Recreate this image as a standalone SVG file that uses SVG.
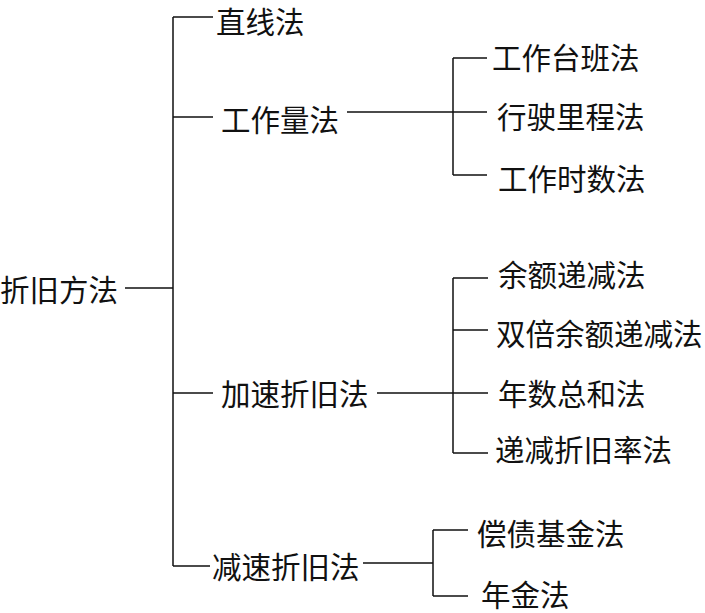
<svg xmlns="http://www.w3.org/2000/svg" width="705" height="613" viewBox="0 0 705 613">
<style>
.t{font-family:"Noto Sans CJK SC","Noto Sans CJK TC",sans-serif;font-size:29.5px;fill:#111;dominant-baseline:central}
.c{stroke:#111;stroke-width:1.5;fill:none}
</style>
<rect width="705" height="613" fill="#fff"/>
<g id="connectors" class="c">
<path d="M125,288H173M173,17V566M173,17H213M173,117H213M173,393H213M173,566H210"/>
<path d="M347,112H453M453,58V175M453,58H487M453,112H487M453,175H487"/>
<path d="M377,393H453M453,278V453M453,278H488M453,330H488M453,393H488M453,453H488"/>
<path d="M363,563H433M433,530V596M433,530H468M433,596H468"/>
</g>
<g id="root"><text class="t" x="0" y="288">折旧方法</text></g>
<g id="n1"><text class="t" x="216" y="20">直线法</text></g>
<g id="n2"><text class="t" x="221" y="118">工作量法</text></g>
<g id="n2a"><text class="t" x="492" y="56">工作台班法</text></g>
<g id="n2b"><text class="t" x="497" y="115">行驶里程法</text></g>
<g id="n2c"><text class="t" x="498" y="177">工作时数法</text></g>
<g id="n3"><text class="t" x="221" y="392">加速折旧法</text></g>
<g id="n3a"><text class="t" x="498" y="273">余额递减法</text></g>
<g id="n3b"><text class="t" x="496" y="332">双倍余额递减法</text></g>
<g id="n3c"><text class="t" x="498" y="392">年数总和法</text></g>
<g id="n3d"><text class="t" x="495" y="448">递减折旧率法</text></g>
<g id="n4"><text class="t" x="212" y="565">减速折旧法</text></g>
<g id="n4a"><text class="t" x="477" y="532">偿债基金法</text></g>
<g id="n4b"><text class="t" x="481" y="593">年金法</text></g>
</svg>
